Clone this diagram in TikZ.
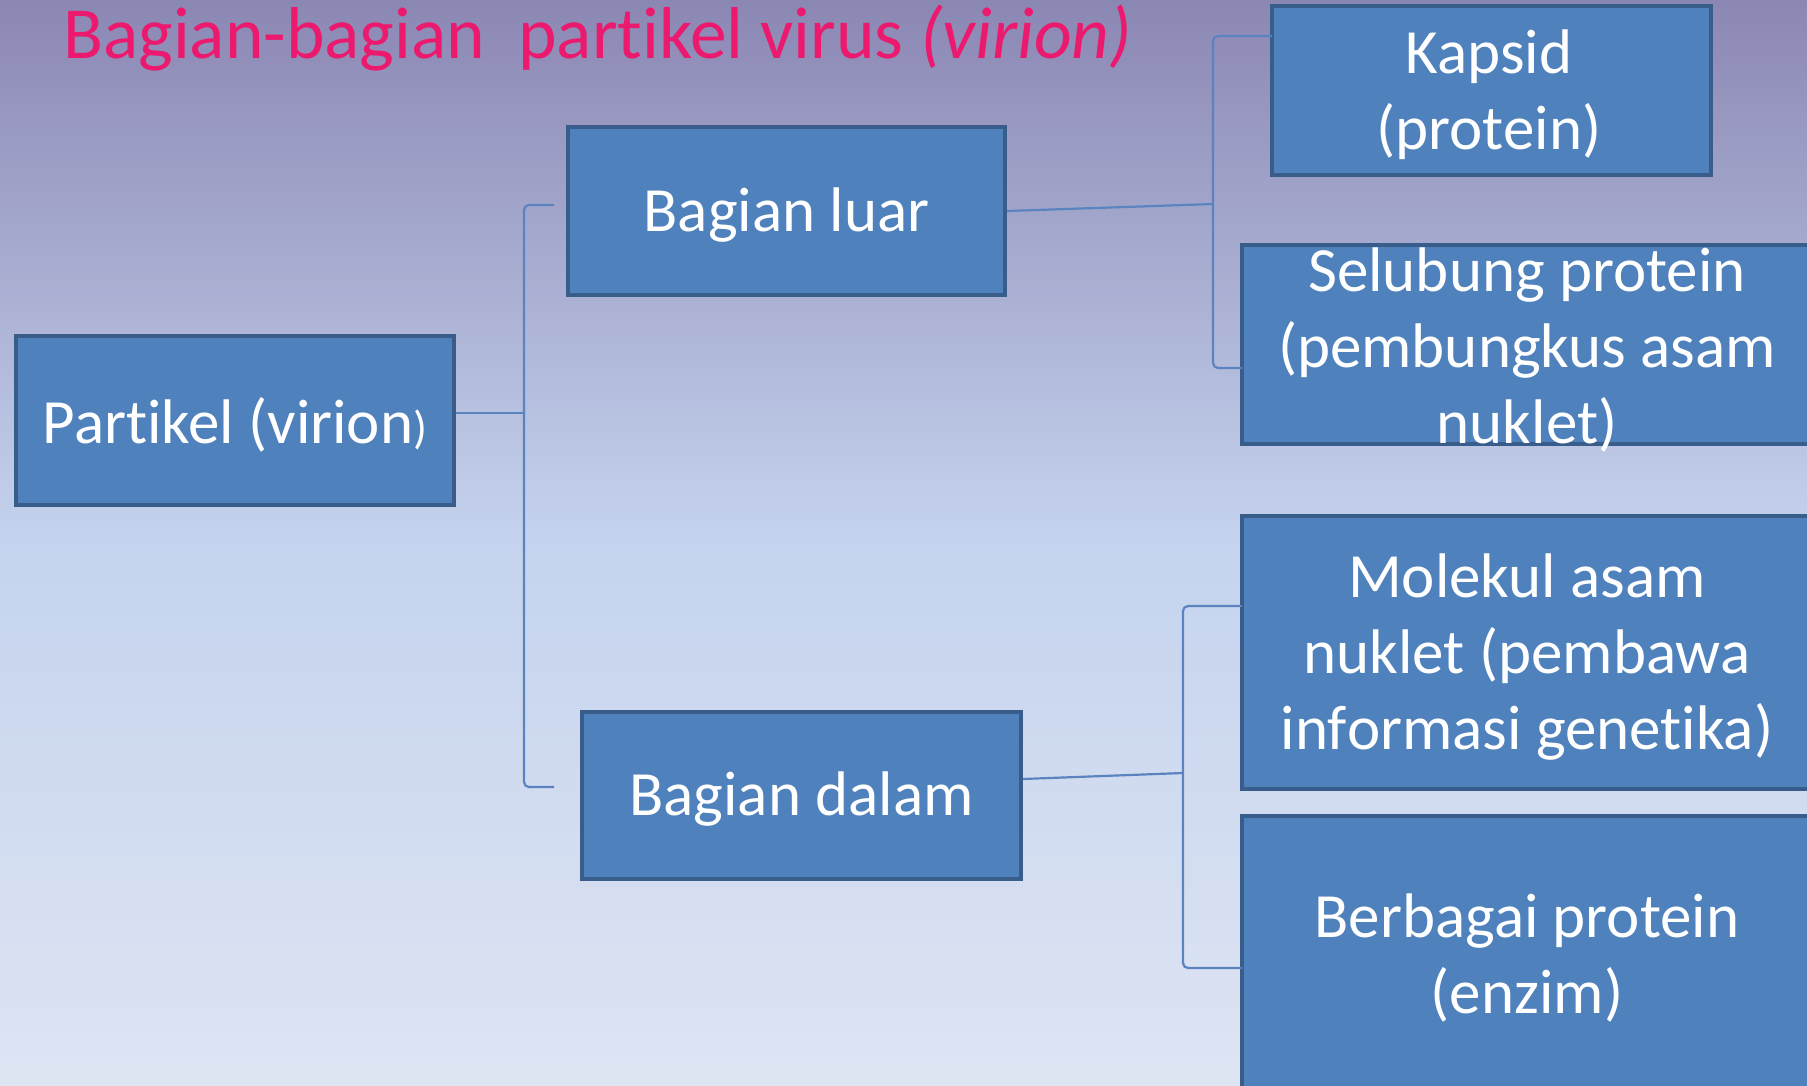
\documentclass[tikz,border=0pt]{standalone}
\usepackage{fontspec}
\setmainfont{Carlito}[Ligatures=NoCommon]
\newcommand{\nl}{\kern0pt{}}
\definecolor{bgtop}{HTML}{8B87B3}
\definecolor{bgmid}{HTML}{C5D3EE}
\definecolor{bgbot}{HTML}{DEE5F3}
\definecolor{boxfill}{HTML}{4F81BD}
\definecolor{boxline}{HTML}{385D8A}
\definecolor{linkc}{HTML}{5B83BF}
\definecolor{titlec}{HTML}{EC1A6E}
\tikzset{
  vbox/.style={draw=boxline, line width=4pt, fill=boxfill, rectangle, inner sep=0pt},
  lbl/.style={text=white, align=center, inner sep=0pt, font=\fontsize{63}{76}\selectfont},
  conn/.style={draw=linkc, line width=2.2pt},
}
\begin{document}
\begin{tikzpicture}[x=1pt,y=-1pt]
\clip (0,0) rectangle (1807,1085);
\shade[top color=bgtop, bottom color=bgmid] (0,0) rectangle (1807,540);
\shade[top color=bgmid, bottom color=bgbot] (0,539) rectangle (1807,1085);

\node[anchor=base west, text=titlec, inner sep=0pt, font=\fontsize{73.5}{88}\selectfont] (title) at (63,58) {Bagian-bagian\ \ part\nl ikel virus \textit{(virion)}};

\node[vbox, minimum width=438pt, minimum height=169pt] (part) at (235,420.5) {};
\node[vbox, minimum width=437pt, minimum height=168pt] (luar) at (786.5,211) {};
\node[vbox, minimum width=439pt, minimum height=167pt] (dalam) at (801.5,795.5) {};
\node[vbox, minimum width=439pt, minimum height=169pt] (kap) at (1491.5,90.5) {};
\node[vbox, minimum width=570pt, minimum height=199pt] (sel) at (1527,344.5) {};
\node[vbox, minimum width=570pt, minimum height=273pt] (mol) at (1527,652.5) {};
\node[vbox, minimum width=570pt, minimum height=284pt] (ber) at (1527,958) {};

\node[lbl] (partT) at (235,425) {Part\nl ikel (virion{\fontsize{46}{50}\selectfont )}};
\node[lbl] (luarT) at (786.5,215) {Bagian luar};
\node[lbl] (dalamT) at (801.5,799) {Bagian dalam};
\node[lbl] (kapT) at (1489,95) {Kapsid\\(protein)};
\node[lbl] (selT) at (1527,350) {Selubung protein\\(pembungkus asam\\nuklet)};
\node[lbl] (molT) at (1527,657) {Molekul asam\\nuklet (pembawa\\inf\nl ormasi genet\nl ika)};
\node[lbl] (berT) at (1527,957.5) {Berbagai protein\\(enzim)};

\coordinate (s1) at (524,413);
\coordinate (b1t) at (554,205);
\coordinate (b1b) at (554,787);
\coordinate (s2) at (1213,204);
\coordinate (b2t) at (1272,36);
\coordinate (b2b) at (1242,368);
\coordinate (s3) at (1183,773);
\coordinate (b3t) at (1242,606);
\coordinate (b3b) at (1242,968);

\draw[conn] ([yshift=7.5pt]part.east) -- (s1);
\draw[conn, rounded corners=5pt] (b1t) -| (s1) |- (b1b);
\draw[conn] (luar.east) -- (s2);
\draw[conn, rounded corners=5pt] (b2t) -| (s2) |- (b2b);
\draw[conn] ([yshift=16.5pt]dalam.east) -- (s3);
\draw[conn, rounded corners=5pt] (b3t) -| (s3) |- (b3b);
\end{tikzpicture}
\end{document}
